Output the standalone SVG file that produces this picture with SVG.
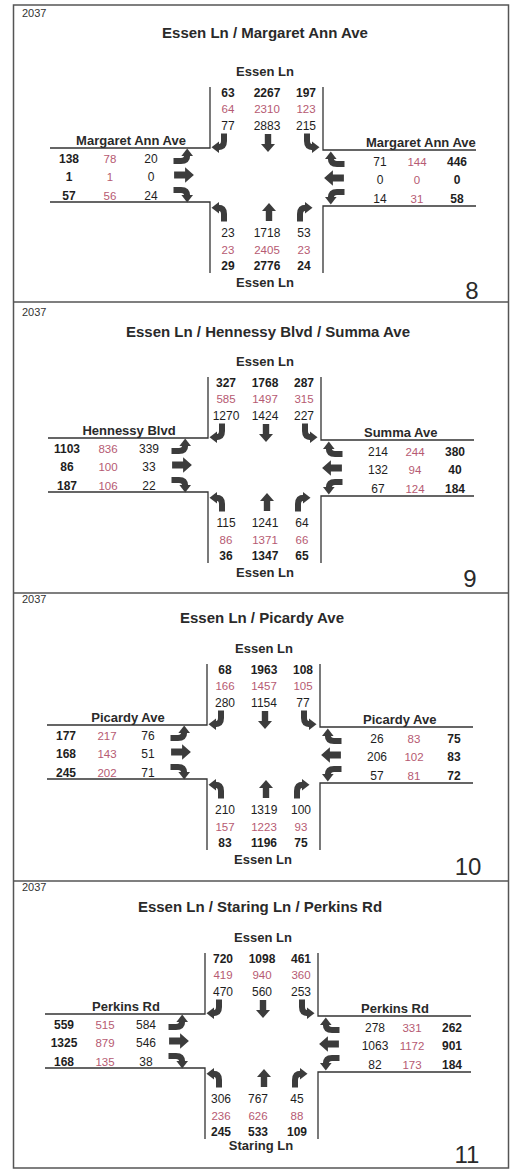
<svg xmlns="http://www.w3.org/2000/svg" width="513" height="1170" viewBox="0 0 513 1170">
<style>
text{font-family:"Liberation Sans",Arial,sans-serif;fill:#1e1e1e}
.t{font-size:12px;text-anchor:middle}
.b{font-weight:bold}
.r{fill:#b65a72;font-size:11.5px}
.ttl{font-size:15px;font-weight:bold;text-anchor:middle;fill:#2a2a2a}
.lbl{font-size:13px;font-weight:bold;fill:#2a2a2a}
.c{text-anchor:middle}
.yr{font-size:11px;fill:#333}
.num{font-size:24px;text-anchor:middle;fill:#2a2a2a}
.road{fill:none;stroke:#333;stroke-width:1.3}
.frame{fill:none;stroke:#555;stroke-width:1.5}
.arr{fill:#3c3c3c}
</style>
<defs>
<path id="st" class="arr" d="M -3.2 9 L -3.2 -1 L -7 -1 L 0 -9 L 7 -1 L 3.2 -1 L 3.2 9 Z"/>
<g id="tu">
<path d="M -4 9.5 L -4 2 Q -4 -4.2 2 -4.2" fill="none" stroke="#3c3c3c" stroke-width="6"/>
<polygon class="arr" points="1,-10 8.5,-4.2 1,1.6"/>
</g>
<g id="arrows">
<use href="#tu" transform="translate(220,143) rotate(180)"/>
<use href="#st" transform="translate(268,143) rotate(180)"/>
<use href="#tu" transform="translate(311,143) scale(1,-1)"/>
<use href="#tu" transform="translate(220,212) scale(-1,1)"/>
<use href="#st" transform="translate(269,212)"/>
<use href="#tu" transform="translate(304,212)"/>
<use href="#tu" transform="translate(183,157) scale(1,-1) rotate(90)"/>
<use href="#st" transform="translate(184,175) rotate(90) scale(1.1)"/>
<use href="#tu" transform="translate(183,194) rotate(90)"/>
<use href="#tu" transform="translate(335,160) rotate(-90)"/>
<use href="#st" transform="translate(334,178) rotate(-90) scale(1.1)"/>
<use href="#tu" transform="translate(335,196) scale(1,-1) rotate(-90)"/>
</g>
<g id="roadlines">
<path class="road" d="M 210 87 V 148 H 50"/>
<path class="road" d="M 323 87 V 150 H 476"/>
<path class="road" d="M 50 202 H 210 V 273"/>
<path class="road" d="M 476 206 H 323 V 273"/>
</g>
</defs>

<g id="frame">
<rect class="frame" x="13.5" y="5" width="495" height="1163"/>
<line class="frame" x1="13.5" y1="302" x2="508.5" y2="302"/>
<line class="frame" x1="13.5" y1="593" x2="508.5" y2="593"/>
<line class="frame" x1="13.5" y1="881" x2="508.5" y2="881"/>
</g>

<g id="panel8">
<text class="yr" x="22" y="17">2037</text>
<text class="ttl" x="265" y="38">Essen Ln / Margaret Ann Ave</text>
<g transform="translate(0,0)">
<g id="connectors8"><use href="#roadlines"/><use href="#arrows"/></g>
<text class="lbl c" x="265" y="76">Essen Ln</text>
<text class="lbl c" x="265" y="287">Essen Ln</text>
<text class="lbl c" x="131" y="145">Margaret Ann Ave</text>
<text class="lbl" x="366" y="147">Margaret Ann Ave</text>
<text class="t b" x="228" y="97">63</text><text class="t b" x="267" y="97">2267</text><text class="t b" x="306" y="97">197</text>
<text class="t r" x="228" y="113">64</text><text class="t r" x="267" y="113">2310</text><text class="t r" x="306" y="113">123</text>
<text class="t" x="228" y="130">77</text><text class="t" x="267" y="130">2883</text><text class="t" x="306" y="130">215</text>
<text class="t b" x="69" y="163">138</text><text class="t r" x="110" y="163">78</text><text class="t" x="151" y="163">20</text>
<text class="t b" x="69" y="181">1</text><text class="t r" x="110" y="181">1</text><text class="t" x="151" y="181">0</text>
<text class="t b" x="69" y="200">57</text><text class="t r" x="110" y="200">56</text><text class="t" x="151" y="200">24</text>
<text class="t" x="380" y="166">71</text><text class="t r" x="417" y="166">144</text><text class="t b" x="457" y="166">446</text>
<text class="t" x="380" y="184">0</text><text class="t r" x="417" y="184">0</text><text class="t b" x="457" y="184">0</text>
<text class="t" x="380" y="203">14</text><text class="t r" x="417" y="203">31</text><text class="t b" x="457" y="203">58</text>
<text class="t" x="228" y="237">23</text><text class="t" x="267" y="237">1718</text><text class="t" x="304" y="237">53</text>
<text class="t r" x="228" y="254">23</text><text class="t r" x="267" y="254">2405</text><text class="t r" x="304" y="254">23</text>
<text class="t b" x="228" y="270">29</text><text class="t b" x="267" y="270">2776</text><text class="t b" x="304" y="270">24</text>
<text class="num" x="472" y="299">8</text>
</g>
</g>

<g id="panel9">
<text class="yr" x="22" y="316">2037</text>
<text class="ttl" x="268" y="337">Essen Ln / Hennessy Blvd / Summa Ave</text>
<g transform="translate(-2,290)">
<g id="connectors9"><use href="#roadlines"/><use href="#arrows"/></g>
<text class="lbl c" x="267" y="76">Essen Ln</text>
<text class="lbl c" x="267" y="287">Essen Ln</text>
<text class="lbl c" x="131" y="145">Hennessy Blvd</text>
<text class="lbl" x="366" y="147">Summa Ave</text>
<text class="t b" x="228" y="97">327</text><text class="t b" x="267" y="97">1768</text><text class="t b" x="306" y="97">287</text>
<text class="t r" x="228" y="113">585</text><text class="t r" x="267" y="113">1497</text><text class="t r" x="306" y="113">315</text>
<text class="t" x="228" y="130">1270</text><text class="t" x="267" y="130">1424</text><text class="t" x="306" y="130">227</text>
<text class="t b" x="69" y="163">1103</text><text class="t r" x="110" y="163">836</text><text class="t" x="151" y="163">339</text>
<text class="t b" x="69" y="181">86</text><text class="t r" x="110" y="181">100</text><text class="t" x="151" y="181">33</text>
<text class="t b" x="69" y="200">187</text><text class="t r" x="110" y="200">106</text><text class="t" x="151" y="200">22</text>
<text class="t" x="380" y="166">214</text><text class="t r" x="417" y="166">244</text><text class="t b" x="457" y="166">380</text>
<text class="t" x="380" y="184">132</text><text class="t r" x="417" y="184">94</text><text class="t b" x="457" y="184">40</text>
<text class="t" x="380" y="203">67</text><text class="t r" x="417" y="203">124</text><text class="t b" x="457" y="203">184</text>
<text class="t" x="228" y="237">115</text><text class="t" x="267" y="237">1241</text><text class="t" x="304" y="237">64</text>
<text class="t r" x="228" y="254">86</text><text class="t r" x="267" y="254">1371</text><text class="t r" x="304" y="254">66</text>
<text class="t b" x="228" y="270">36</text><text class="t b" x="267" y="270">1347</text><text class="t b" x="304" y="270">65</text>
<text class="num" x="472" y="297">9</text>
</g>
</g>

<g id="panel10">
<text class="yr" x="22" y="603">2037</text>
<text class="ttl" x="262" y="623">Essen Ln / Picardy Ave</text>
<g transform="translate(-3,577)">
<g id="connectors10"><use href="#roadlines"/><use href="#arrows"/></g>
<text class="lbl c" x="267" y="76">Essen Ln</text>
<text class="lbl c" x="266" y="287">Essen Ln</text>
<text class="lbl c" x="131" y="145">Picardy Ave</text>
<text class="lbl" x="366" y="147">Picardy Ave</text>
<text class="t b" x="228" y="97">68</text><text class="t b" x="267" y="97">1963</text><text class="t b" x="306" y="97">108</text>
<text class="t r" x="228" y="113">166</text><text class="t r" x="267" y="113">1457</text><text class="t r" x="306" y="113">105</text>
<text class="t" x="228" y="130">280</text><text class="t" x="267" y="130">1154</text><text class="t" x="306" y="130">77</text>
<text class="t b" x="69" y="163">177</text><text class="t r" x="110" y="163">217</text><text class="t" x="151" y="163">76</text>
<text class="t b" x="69" y="181">168</text><text class="t r" x="110" y="181">143</text><text class="t" x="151" y="181">51</text>
<text class="t b" x="69" y="200">245</text><text class="t r" x="110" y="200">202</text><text class="t" x="151" y="200">71</text>
<text class="t" x="380" y="166">26</text><text class="t r" x="417" y="166">83</text><text class="t b" x="457" y="166">75</text>
<text class="t" x="380" y="184">206</text><text class="t r" x="417" y="184">102</text><text class="t b" x="457" y="184">83</text>
<text class="t" x="380" y="203">57</text><text class="t r" x="417" y="203">81</text><text class="t b" x="457" y="203">72</text>
<text class="t" x="228" y="237">210</text><text class="t" x="267" y="237">1319</text><text class="t" x="304" y="237">100</text>
<text class="t r" x="228" y="254">157</text><text class="t r" x="267" y="254">1223</text><text class="t r" x="304" y="254">93</text>
<text class="t b" x="228" y="270">83</text><text class="t b" x="267" y="270">1196</text><text class="t b" x="304" y="270">75</text>
<text class="num" x="471" y="298">10</text>
</g>
</g>

<g id="panel11">
<text class="yr" x="22" y="891">2037</text>
<text class="ttl" x="260" y="912">Essen Ln / Staring Ln / Perkins Rd</text>
<g transform="translate(-5,866)">
<g id="connectors11"><use href="#roadlines"/><use href="#arrows"/></g>
<text class="lbl c" x="268" y="76">Essen Ln</text>
<text class="lbl c" x="266" y="284">Staring Ln</text>
<text class="lbl c" x="131" y="145">Perkins Rd</text>
<text class="lbl" x="366" y="147">Perkins Rd</text>
<text class="t b" x="228" y="97">720</text><text class="t b" x="267" y="97">1098</text><text class="t b" x="306" y="97">461</text>
<text class="t r" x="228" y="113">419</text><text class="t r" x="267" y="113">940</text><text class="t r" x="306" y="113">360</text>
<text class="t" x="228" y="130">470</text><text class="t" x="267" y="130">560</text><text class="t" x="306" y="130">253</text>
<text class="t b" x="69" y="163">559</text><text class="t r" x="110" y="163">515</text><text class="t" x="151" y="163">584</text>
<text class="t b" x="69" y="181">1325</text><text class="t r" x="110" y="181">879</text><text class="t" x="151" y="181">546</text>
<text class="t b" x="69" y="200">168</text><text class="t r" x="110" y="200">135</text><text class="t" x="151" y="200">38</text>
<text class="t" x="380" y="166">278</text><text class="t r" x="417" y="166">331</text><text class="t b" x="457" y="166">262</text>
<text class="t" x="380" y="184">1063</text><text class="t r" x="417" y="184">1172</text><text class="t b" x="457" y="184">901</text>
<text class="t" x="380" y="203">82</text><text class="t r" x="417" y="203">173</text><text class="t b" x="457" y="203">184</text>
<text class="t" x="226" y="237">306</text><text class="t" x="263" y="237">767</text><text class="t" x="302" y="237">45</text>
<text class="t r" x="226" y="254">236</text><text class="t r" x="263" y="254">626</text><text class="t r" x="302" y="254">88</text>
<text class="t b" x="226" y="270">245</text><text class="t b" x="263" y="270">533</text><text class="t b" x="302" y="270">109</text>
<text class="num" x="472" y="297">11</text>
</g>
</g>
</svg>
